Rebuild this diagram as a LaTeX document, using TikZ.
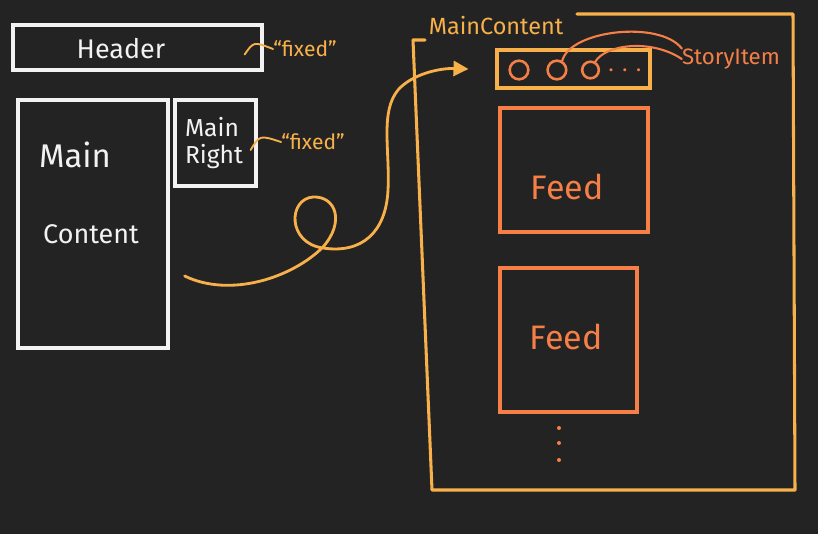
\documentclass[tikz,border=0pt]{standalone}
\usepackage{fontspec}
\setmainfont{Fira Sans}
\usetikzlibrary{positioning,arrows.meta}
\definecolor{board}{HTML}{232323}
\definecolor{chalk}{HTML}{F2F2F2}
\definecolor{amber}{HTML}{F8B04A}
\definecolor{coral}{HTML}{F67F47}

\begin{document}
\begin{tikzpicture}[x=0.3mm,y=-0.3mm,
	whitebox/.style={rectangle, draw=chalk, line width=2.8pt, inner sep=0pt},
	amberbox/.style={rectangle, draw=amber, line width=2.6pt, inner sep=0pt},
	feedbox/.style={rectangle, draw=coral, line width=2.8pt, inner sep=0pt},
	storynode/.style={circle, draw=coral, line width=2.2pt, minimum size=5.6mm, inner sep=0pt},
	chalktext/.style={text=chalk, inner sep=0pt, font=\fontsize{#1}{#1}\selectfont},
	ambertext/.style={text=amber, inner sep=0pt, font=\fontsize{#1}{#1}\selectfont},
	coraltext/.style={text=coral, inner sep=0pt, font=\fontsize{#1}{#1}\selectfont},
	note/.style={draw=amber, line width=1.6pt, line cap=round},
	flow/.style={draw=amber, line width=2.4pt, line cap=round, -{Triangle[length=4.5mm,width=4.5mm]}},
	pick/.style={draw=coral, line width=1.8pt, line cap=round}]

	\fill[board] (0,0) rectangle (818,534);

	\node[whitebox, minimum width=74.7mm, minimum height=13.5mm] (hdr) at (137.5,47.5) {};
	\node[chalktext=23] (hdrtxt) at (121,49) {Header};
	\node[whitebox, minimum width=45mm, minimum height=74.4mm] (main) at (93,224) {};
	\node[chalktext=28] (maintxt) at (75,155) {Main};
	\node[chalktext=23] (contenttxt) at (91,234) {Content};
	\node[whitebox, minimum width=24.3mm, minimum height=25.8mm] (right) at (215.5,143) {};
	\node[chalktext=21, align=left] (righttxt) at (214,143) {Main\\[2pt]Right};

	\node[ambertext=18] (fx1) at (305,49) {``fixed''};
	\node[ambertext=18] (fx2) at (313,142) {``fixed''};
	\draw[note] ([shift={(-19,7)}]hdr.east) .. controls ([shift={(-10,-6)}]hdr.east) .. (fx1.west);
	\draw[note] ([shift={(-7,7)}]right.east) .. controls ([shift={(2,-8)}]right.east) .. (fx2.west);

	\node[ambertext=20] (mc) at (496,25) {MainContent};
	\draw[amber, line width=2.6pt, line join=round, line cap=round]
		(425,40) -- (413,40) -- (432,490) -- (795,490) -- (793,14) -- (577,14);

	\node[amberbox, minimum width=45.9mm, minimum height=11.4mm] (bar) at (573.5,69) {};
	\node[storynode] (c1) at (519,70) {};
	\node[storynode] (c2) [right=5mm of c1] {};
	\node[storynode, minimum size=5mm] (c3) [right=4mm of c2] {};
	\node[coraltext=18] (more) [right=2.5mm of c3] {.\hspace{2.6mm}.\hspace{2.6mm}.};
	\node[coraltext=19] (story) at (731,59) {StoryItem};
	\draw[pick] (c2.60) .. controls (570,30) and (660,20) .. (story.north west);
	\draw[pick] (c3.60) .. controls (605,45) and (650,38) .. (story.west);

	\node[feedbox, minimum width=44.4mm, minimum height=37.2mm] (feed1) at (574,170) {};
	\node[coraltext=29] (feed1txt) at (567,187) {Feed};
	\node[feedbox, minimum width=41.1mm, minimum height=43.2mm] (feed2) at (568.5,340) {};
	\node[coraltext=29] (feed2txt) at (566,337) {Feed};
	\foreach \y in {428,443,460}
		\fill[coral] (559,\y) circle (1.7pt);

	\draw[flow] ([shift={(15,52)}]main.east) .. controls (230,298) and (292,278) .. (323,247)
		.. controls (345,222) and (336,196) .. (313,197)
		.. controls (288,199) and (287,243) .. (323,248)
		.. controls (362,254) and (386,232) .. (388,190)
		.. controls (390,150) and (380,112) .. (398,90)
		.. controls (412,74) and (440,68) .. ([shift={(-27,0)}]bar.west);
\end{tikzpicture}
\end{document}
